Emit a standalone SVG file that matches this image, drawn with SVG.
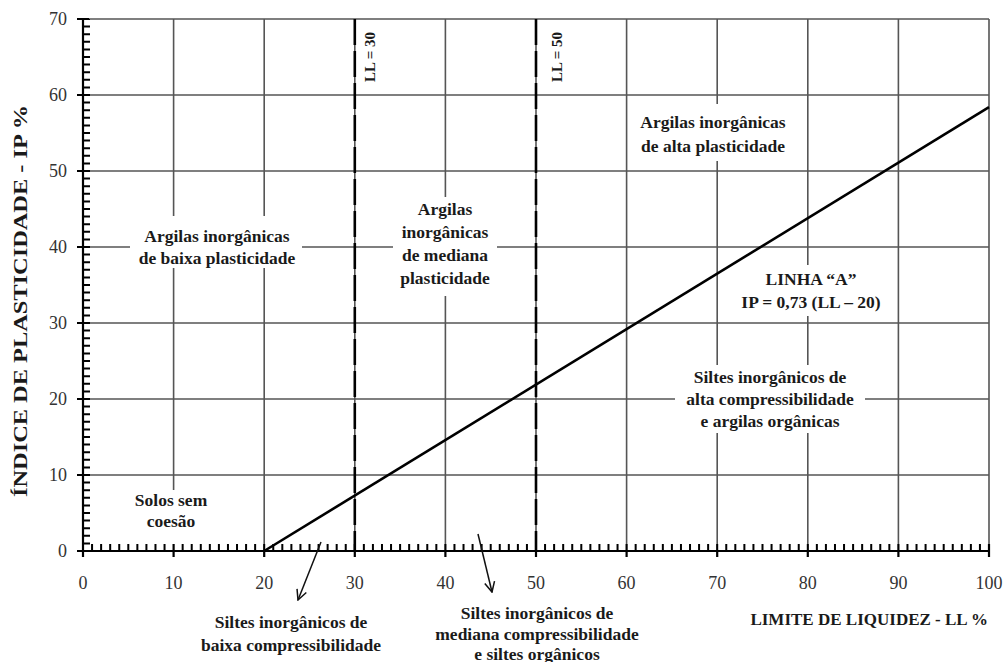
<svg xmlns="http://www.w3.org/2000/svg" width="1007" height="662" viewBox="0 0 1007 662">
<style>
.grid{stroke:#555;stroke-width:1.6;fill:none}
.axis{stroke:#000;stroke-width:2.2;fill:none}
.tick{stroke:#000;fill:none}
.num{font-family:'Liberation Serif','Times New Roman',serif;font-size:18px;fill:#333}
.lbl{font-family:'Liberation Serif','Times New Roman',serif;font-size:17.5px;font-weight:bold;fill:#1a1a1a;text-anchor:middle}
.bg{fill:#fff}
.dash{stroke:#000;stroke-width:2.6;stroke-dasharray:26 6;fill:none}
.conn{stroke:#111;stroke-width:1.5;fill:none}
</style>
<defs>
<marker id="open" viewBox="0 0 12 12" refX="11" refY="6" markerWidth="12" markerHeight="12" markerUnits="userSpaceOnUse" orient="auto">
<path d="M1,1 L11,6 L1,11" fill="none" stroke="#111" stroke-width="1.5"/>
</marker>
</defs>
<rect width="1007" height="662" fill="#fff"/>
<g id="grid">
<path class="grid" d="M173.6,19V551M264.2,19V551M354.8,19V551M445.4,19V551M536,19V551M626.6,19V551M717.2,19V551M807.8,19V551M898.4,19V551M989,19V551"/>
<path class="grid" d="M83,475H989M83,399H989M83,323H989M83,247H989M83,171H989M83,95H989M83,19H989"/>
</g>
<g id="label-backgrounds">
<rect class="bg" x="130" y="216" width="172" height="52"/>
<rect class="bg" x="393" y="197" width="104" height="99"/>
<rect class="bg" x="632" y="104" width="162" height="57"/>
<rect class="bg" x="735" y="265" width="152" height="51"/>
<rect class="bg" x="675" y="365" width="190" height="68"/>
<rect class="bg" x="128" y="490" width="88" height="54"/>
</g>
<g id="axes">
<path class="axis" d="M83,19V551H989"/>
<line class="tick" x1="86.5" y1="551" x2="86.5" y2="19" style="stroke-width:7;stroke-dasharray:2 5.6;stroke-dashoffset:1"/>
<line class="tick" x1="83" y1="547.5" x2="989" y2="547.5" style="stroke-width:7;stroke-dasharray:2 7.06;stroke-dashoffset:1"/>
<path class="tick" style="stroke-width:2.2" d="M77,551H83M77,475H83M77,399H83M77,323H83M77,247H83M77,171H83M77,95H83M77,19H89"/>
<path class="tick" style="stroke-width:2.2" d="M83,551V557M173.6,551V557M264.2,551V557M354.8,551V557M445.4,551V557M536,551V557M626.6,551V557M717.2,551V557M807.8,551V557M898.4,551V557M989,544V557"/>
</g>
<g id="y-ticks" class="num" text-anchor="end">
<text x="67" y="557">0</text>
<text x="67" y="481">10</text>
<text x="67" y="405">20</text>
<text x="67" y="329">30</text>
<text x="67" y="253">40</text>
<text x="67" y="177">50</text>
<text x="67" y="101">60</text>
<text x="67" y="25">70</text>
</g>
<g id="x-ticks" class="num" text-anchor="middle">
<text x="83" y="589">0</text>
<text x="173.6" y="589">10</text>
<text x="264.2" y="589">20</text>
<text x="354.8" y="589">30</text>
<text x="445.4" y="589">40</text>
<text x="536" y="589">50</text>
<text x="626.6" y="589">60</text>
<text x="717.2" y="589">70</text>
<text x="807.8" y="589">80</text>
<text x="898.4" y="589">90</text>
<text x="989" y="589">100</text>
</g>
<g id="ll-limits">
<line class="dash" x1="354.8" y1="19" x2="354.8" y2="551"/>
<line class="dash" x1="536" y1="19" x2="536" y2="551"/>
<text class="lbl" transform="translate(375,57) rotate(-90)" style="font-size:15px">LL = 30</text>
<text class="lbl" transform="translate(562,57) rotate(-90)" style="font-size:15px">LL = 50</text>
</g>
<g id="linha-a">
<line x1="264.2" y1="551" x2="989" y2="107.2" stroke="#000" stroke-width="2.6"/>
</g>
<g id="connectors">
<line class="conn" x1="321" y1="542" x2="298" y2="600" marker-end="url(#open)"/>
<line class="conn" x1="478" y1="534" x2="492" y2="592" marker-end="url(#open)"/>
</g>
<g id="node-baixa-plasticidade" class="lbl">
<text x="217" y="242">Argilas inorgânicas</text>
<text x="217" y="264">de baixa plasticidade</text>
</g>
<g id="node-mediana-plasticidade" class="lbl">
<text x="445" y="215">Argilas</text>
<text x="445" y="238">inorgânicas</text>
<text x="445" y="261">de mediana</text>
<text x="445" y="284">plasticidade</text>
</g>
<g id="node-alta-plasticidade" class="lbl">
<text x="713" y="128">Argilas inorgânicas</text>
<text x="713" y="152">de alta plasticidade</text>
</g>
<g id="node-linha-a" class="lbl">
<text x="811" y="285">LINHA “A”</text>
<text x="811" y="308">IP = 0,73 (LL – 20)</text>
</g>
<g id="node-siltes-alta" class="lbl">
<text x="770" y="383">Siltes inorgânicos de</text>
<text x="770" y="405">alta compressibilidade</text>
<text x="770" y="427">e argilas orgânicas</text>
</g>
<g id="node-solos-sem-coesao" class="lbl">
<text x="171" y="506">Solos sem</text>
<text x="171" y="527">coesão</text>
</g>
<g id="node-siltes-baixa" class="lbl">
<text x="291" y="628">Siltes inorgânicos de</text>
<text x="291" y="651">baixa compressibilidade</text>
</g>
<g id="node-siltes-mediana" class="lbl">
<text x="537" y="619">Siltes inorgânicos de</text>
<text x="537" y="640">mediana compressibilidade</text>
<text x="537" y="660">e siltes orgânicos</text>
</g>
<g id="axis-titles">
<text class="lbl" x="988" y="625" style="text-anchor:end;font-size:17px">LIMITE DE LIQUIDEZ - LL %</text>
<text class="lbl" transform="translate(27,301) rotate(-90)" style="font-size:18px" textLength="392" lengthAdjust="spacingAndGlyphs">ÍNDICE DE PLASTICIDADE - IP %</text>
</g>
</svg>
